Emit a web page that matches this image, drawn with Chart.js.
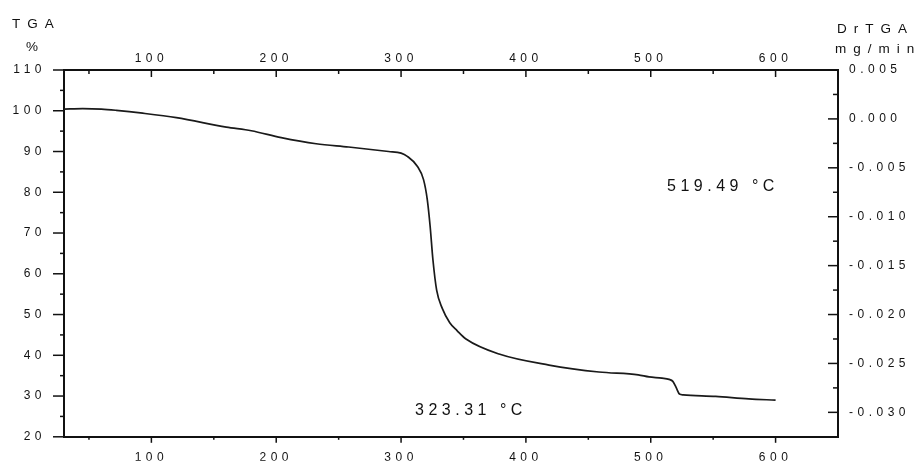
<!DOCTYPE html>
<html>
<head>
<meta charset="utf-8">
<script src="https://cdn.jsdelivr.net/npm/chart.js@4.4.1/dist/chart.umd.min.js"></script>
<style>
  html, body { margin: 0; padding: 0; background: #fff; }
  canvas { display: block; }
</style>
</head>
<body>
<canvas id="tga" width="919" height="462"></canvas>
<script>
// TGA run: temperature (°C) vs remaining mass (%)
const temperature = [30, 45, 60, 72, 93, 120, 160, 180, 204, 232, 258, 290, 300, 305, 313, 318, 321, 323.3, 325.5, 328.5, 333, 339, 345, 352, 378.5, 418.5, 458.5, 490, 498.6, 509, 514.7, 517.7, 520.5, 523, 526, 552, 578.5, 600];
const tgaPercent = [100.4, 100.5, 100.4, 100.1, 99.4, 98.3, 96.0, 95.1, 93.4, 91.9, 91.1, 90.0, 89.6, 88.8, 86.4, 83.1, 78.2, 71.6, 63.5, 56.0, 51.5, 48.0, 46.0, 44.0, 40.3, 37.6, 35.9, 35.2, 34.7, 34.4, 34.1, 33.6, 32.0, 30.5, 30.3, 29.9, 29.3, 29.0];

const tempTicks = [100, 200, 300, 400, 500, 600];
const tgaTicks = [20, 30, 40, 50, 60, 70, 80, 90, 100, 110];
const drTicks = [0.005, 0, -0.005, -0.010, -0.015, -0.020, -0.025, -0.030];

const peakLabels = [
  { text: '519.49 °C', x: 667, y: 187 },
  { text: '323.31 °C', x: 415, y: 411 }
];

const FONT = '"Liberation Sans", Arial, sans-serif';
const INK = '#111';

function midpoints(arr) {
  const out = [];
  for (let i = 0; i < arr.length - 1; i++) out.push((arr[i] + arr[i + 1]) / 2);
  return out;
}

function fixed(list) {
  return scale => { scale.ticks = list.map(v => ({ value: v })); };
}

const axisBase = {
  type: 'linear',
  grid: { display: true, drawOnChartArea: false, drawTicks: false },
  border: { display: true, color: '#111', width: 2 },
  ticks: { autoSkip: false, color: INK, font: { family: FONT, size: 12 } }
};

const axisFrame = {
  id: 'axisFrame',
  beforeDraw(chart) {
    chart.ctx.letterSpacing = '4.5px';
  },
  afterDraw(chart) {
    const { ctx, chartArea: a, scales } = chart;
    ctx.save();
    ctx.strokeStyle = '#111';
    ctx.lineWidth = 1.5;
    const seg = (x1, y1, x2, y2) => { ctx.beginPath(); ctx.moveTo(x1, y1); ctx.lineTo(x2, y2); ctx.stroke(); };

    // left: ticks outward, right: ticks inward
    tgaTicks.forEach(v => { const y = scales.y.getPixelForValue(v); seg(a.left - 11, y, a.left, y); });
    midpoints(tgaTicks).forEach(v => { const y = scales.y.getPixelForValue(v); seg(a.left - 4, y, a.left, y); });
    drTicks.forEach(v => { const y = scales.y2.getPixelForValue(v); seg(a.right - 10, y, a.right, y); });
    midpoints(drTicks).forEach(v => { const y = scales.y2.getPixelForValue(v); seg(a.right - 5, y, a.right, y); });

    // top: ticks hang into the plot, bottom: ticks point out
    const tempMinor = [50].concat(midpoints(tempTicks));
    tempTicks.forEach(v => {
      const x = scales.x.getPixelForValue(v);
      seg(x, a.top, x, a.top + 7);
      seg(x, a.bottom, x, a.bottom + 6);
    });
    tempMinor.forEach(v => {
      const x = scales.x.getPixelForValue(v);
      seg(x, a.top, x, a.top + 4);
      seg(x, a.bottom, x, a.bottom + 3);
    });

    ctx.fillStyle = INK;
    ctx.textBaseline = 'middle';
    ctx.textAlign = 'left';
    ctx.letterSpacing = '7px';
    ctx.font = '13.5px ' + FONT;
    ctx.fillText('TGA', 12, 24);
    ctx.fillText('%', 26, 47);
    ctx.fillText('DrTGA', 837, 29);
    ctx.fillText('mg/min', 835, 49);

    ctx.letterSpacing = '4.5px';
    ctx.font = '16px ' + FONT;
    peakLabels.forEach(p => ctx.fillText(p.text, p.x, p.y));
    ctx.restore();
  }
};

new Chart(document.getElementById('tga'), {
  type: 'line',
  data: {
    datasets: [{
      data: temperature.map((t, i) => ({ x: t, y: tgaPercent[i] })),
      xAxisID: 'x',
      yAxisID: 'y',
      borderColor: '#1a1a1a',
      borderWidth: 1.7,
      pointRadius: 0,
      fill: false,
      cubicInterpolationMode: 'monotone'
    }]
  },
  options: {
    responsive: false,
    animation: false,
    devicePixelRatio: 1,
    layout: { padding: 0 },
    plugins: { legend: { display: false }, tooltip: { enabled: false } },
    scales: {
      x: {
        ...axisBase, position: 'bottom', min: 30, max: 650,
        ticks: { ...axisBase.ticks, padding: 14, callback: v => String(v) },
        afterBuildTicks: fixed(tempTicks),
        afterFit: s => { s.height = 24; }
      },
      x2: {
        ...axisBase, position: 'top', min: 30, max: 650,
        ticks: { ...axisBase.ticks, padding: 4, callback: v => String(v) },
        afterBuildTicks: fixed(tempTicks),
        afterFit: s => { s.height = 70; }
      },
      y: {
        ...axisBase, position: 'left', min: 20, max: 110,
        ticks: { ...axisBase.ticks, padding: 18, callback: v => String(v) },
        afterBuildTicks: fixed(tgaTicks),
        afterFit: s => { s.width = 64; }
      },
      y2: {
        ...axisBase, position: 'right', min: -0.0325, max: 0.005,
        ticks: { ...axisBase.ticks, padding: 11, callback: v => v.toFixed(3) },
        afterBuildTicks: fixed(drTicks),
        afterFit: s => { s.width = 81; }
      }
    }
  },
  plugins: [axisFrame]
});
</script>
</body>
</html>
